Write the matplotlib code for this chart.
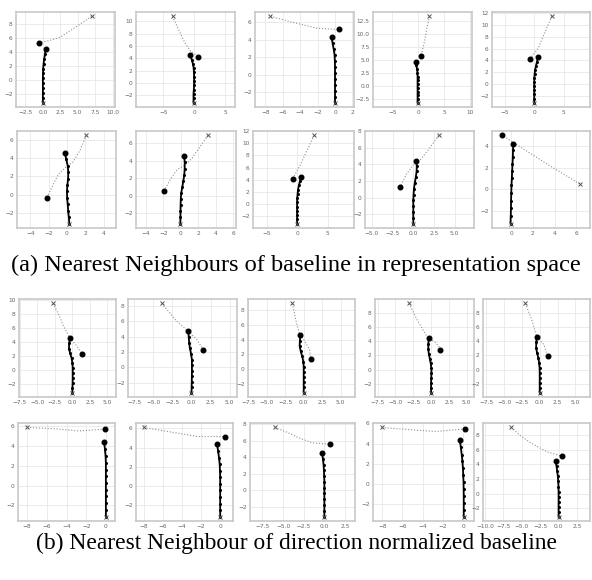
import matplotlib
matplotlib.use("Agg")
from matplotlib import pyplot as plt
from matplotlib.ticker import MultipleLocator

# (a) baseline in representation space, 10 panels (row 1 then row 2)
a_black_x = [
    [0, 0, 0, 0, 0, 0, 0.02, 0.05, 0.1, 0.2, 0.3, 0.4],
    [-0.1, -0.1, -0.1, -0.05, 0, 0, 0, -0.02, -0.08, -0.2, -0.4, -0.6],
    [0, 0, 0, 0, 0, 0, 0, -0.02, -0.05, -0.15, -0.28, -0.4],
    [-0.1, -0.1, -0.1, -0.1, -0.1, -0.1, -0.1, -0.1, -0.12, -0.2, -0.35, -0.5],
    [0, 0, 0, 0, 0, 0, 0.02, 0.06, 0.15, 0.3, 0.48, 0.63],
    [0.26, 0.2, 0.13, 0.08, 0.02, 0.0, 0.05, 0.12, 0.15, 0.08, -0.08, -0.22],
    [-0.05, -0.04, -0.03, -0.02, 0, 0.05, 0.18, 0.3, 0.4, 0.45, 0.45, 0.4],
    [0, 0, 0, 0, 0, 0, 0.02, 0.08, 0.15, 0.3, 0.48, 0.65],
    [0, 0, 0, 0, 0, 0.03, 0.08, 0.18, 0.3, 0.4, 0.42, 0.35],
    [-0.05, -0.03, -0.01, 0.0, 0.02, 0.04, 0.07, 0.1, 0.13, 0.16, 0.18, 0.2],
]
a_black_y = [
    [-3.3, -2.6, -1.9, -1.2, -0.5, 0.2, 0.9, 1.6, 2.3, 3.0, 3.7, 4.4],
    [-3.2, -2.5, -1.8, -1.1, -0.4, 0.3, 1.0, 1.7, 2.4, 3.1, 3.8, 4.5],
    [-3.2, -2.52, -1.84, -1.16, -0.48, 0.2, 0.88, 1.56, 2.24, 2.92, 3.6, 4.3],
    [-3.2, -2.48, -1.76, -1.04, -0.32, 0.4, 1.12, 1.84, 2.56, 3.28, 4.0, 4.7],
    [-3.2, -2.5, -1.8, -1.1, -0.4, 0.3, 1.0, 1.7, 2.4, 3.1, 3.8, 4.5],
    [-3.15, -2.45, -1.75, -1.05, -0.35, 0.35, 1.05, 1.75, 2.45, 3.15, 3.85, 4.55],
    [-3.2, -2.5, -1.8, -1.1, -0.4, 0.3, 1.0, 1.7, 2.4, 3.1, 3.8, 4.5],
    [-3.2, -2.5, -1.8, -1.1, -0.4, 0.3, 1.0, 1.7, 2.4, 3.1, 3.8, 4.5],
    [-3.15, -2.45, -1.75, -1.05, -0.35, 0.35, 1.05, 1.75, 2.45, 3.15, 3.85, 4.45],
    [-3.15, -2.45, -1.75, -1.05, -0.35, 0.35, 1.0, 1.65, 2.3, 2.95, 3.6, 4.15],
]
a_gray_x = [
    [7.0, 4.5, 2.5, 1.2, -0.5],
    [-3.5, -2.6, -1.5, -0.6, 0.7],
    [-7.4, -4.8, -2.1, -0.8, 0.4],
    [2.2, 1.7, 1.3, 0.9, 0.6],
    [3.0, 2.2, 1.4, 0.7, -0.7],
    [2.1, 1.45, 0.7, 0.0, -0.95, -1.5, -2.2],
    [3.1, 2.2, 1.3, 0.35, -0.4, -1.2, -1.9],
    [2.8, 1.7, 0.6, 0.0, -0.7],
    [3.05, 2.0, 0.9, -0.1, -0.85, -1.55],
    [6.3, 3.5, 1.3, -0.8],
]
a_gray_y = [
    [9.1, 7.4, 6.1, 5.7, 5.3],
    [10.8, 8.8, 6.5, 5.2, 4.2],
    [6.7, 6.0, 5.35, 5.25, 5.2],
    [13.5, 11.2, 8.9, 7.2, 5.8],
    [11.5, 9.7, 7.8, 6.1, 4.25],
    [6.45, 4.9, 3.6, 3.1, 2.2, 1.1, -0.36],
    [6.9, 5.6, 4.3, 3.4, 3.0, 1.85, 0.57],
    [11.3, 9.0, 6.6, 5.5, 4.2],
    [7.5, 6.0, 4.6, 3.8, 2.8, 1.3],
    [0.5, 2.2, 3.6, 4.95],
]

# (b) direction normalized baseline, 10 panels
b_black_x = [
    [0, 0.02, 0.04, 0.05, 0.05, 0.05, 0.02, -0.1, -0.3, -0.48, -0.45, -0.33],
    [0, 0.02, 0.04, 0.05, 0.06, 0.06, 0.05, -0.05, -0.2, -0.3, -0.36, -0.4],
    [0, 0, 0, 0, 0, 0, -0.05, -0.2, -0.4, -0.55, -0.52, -0.45],
    [0, 0, 0, 0.02, 0.05, 0.04, -0.05, -0.18, -0.32, -0.4, -0.38, -0.33],
    [0, 0, 0, 0, 0, -0.02, -0.08, -0.2, -0.38, -0.5, -0.48, -0.43],
    [0, 0, 0, 0, 0, 0, 0, 0, 0, -0.03, -0.1, -0.17],
    [0, 0, 0, 0, 0, 0, 0, -0.02, -0.05, -0.12, -0.22, -0.33],
    [0, 0, 0, 0, 0, 0, 0, -0.02, -0.05, -0.1, -0.18, -0.26],
    [0.05, 0.05, 0.05, 0.05, 0.04, 0.03, 0.0, -0.03, -0.08, -0.15, -0.24, -0.33],
    [0, 0, 0, 0, 0, 0, -0.02, -0.05, -0.1, -0.18, -0.28, -0.4],
]
b_black_y = [
    [-3.25, -2.55, -1.85, -1.15, -0.45, 0.25, 0.95, 1.65, 2.35, 3.05, 3.8, 4.5],
    [-3.3, -2.58, -1.86, -1.14, -0.42, 0.3, 1.02, 1.74, 2.46, 3.18, 3.95, 4.7],
    [-3.2, -2.5, -1.8, -1.1, -0.4, 0.3, 1.0, 1.7, 2.4, 3.1, 3.85, 4.55],
    [-3.2, -2.52, -1.84, -1.16, -0.48, 0.2, 0.88, 1.56, 2.24, 2.92, 3.65, 4.4],
    [-3.2, -2.5, -1.8, -1.1, -0.4, 0.3, 1.0, 1.7, 2.4, 3.1, 3.85, 4.6],
    [-3.15, -2.47, -1.79, -1.11, -0.43, 0.25, 0.93, 1.61, 2.29, 2.97, 3.7, 4.4],
    [-3.2, -2.52, -1.84, -1.16, -0.48, 0.2, 0.88, 1.56, 2.24, 2.92, 3.65, 4.4],
    [-3.2, -2.5, -1.8, -1.1, -0.4, 0.3, 1.0, 1.7, 2.4, 3.1, 3.8, 4.55],
    [-3.2, -2.52, -1.84, -1.16, -0.48, 0.2, 0.88, 1.56, 2.24, 2.92, 3.65, 4.35],
    [-3.1, -2.42, -1.74, -1.06, -0.38, 0.3, 0.98, 1.66, 2.34, 3.02, 3.7, 4.4],
]
b_gray_x = [
    [-2.75, -1.9, -1.26, -0.33, 0.66, 1.37],
    [-3.9, -2.9, -2.0, -0.45, 0.67, 1.55],
    [-1.55, -1.25, -1.0, -0.55, 0.15, 0.8, 0.95],
    [-3.1, -1.85, -0.6, 0.7, 1.25, 1.25],
    [-2.0, -1.05, -0.48, 0.6, 1.1],
    [-8.0, -5.0, -2.8, -1.2, -0.07],
    [-8.0, -5.0, -2.3, -0.8, 0.55],
    [-6.0, -4.5, -3.0, -1.5, 0.7],
    [-8.05, -5.5, -2.7, -1.0, 0.2],
    [-6.45, -5.2, -3.85, -1.6, 0.45],
]
b_gray_y = [
    [9.5, 7.8, 6.25, 4.5, 3.4, 2.3],
    [8.35, 7.2, 6.1, 4.7, 3.7, 2.3],
    [8.9, 7.6, 6.3, 4.7, 3.8, 2.6, 1.4],
    [9.3, 6.8, 4.7, 3.75, 3.05, 2.7],
    [9.3, 6.8, 4.8, 3.5, 1.9],
    [5.9, 5.75, 5.55, 5.65, 5.75],
    [6.1, 5.6, 5.15, 5.15, 5.15],
    [7.6, 7.0, 6.3, 5.75, 5.55],
    [5.6, 5.4, 5.2, 5.35, 5.45],
    [9.0, 7.9, 6.95, 5.7, 5.1],
]

a_caption = "(a) Nearest Neighbours of baseline in representation space"
b_caption = "(b) Nearest Neighbour of direction normalized baseline"

# tick spacing per panel
a_xstep = [2.5, 5, 2, 5, 5, 2, 2, 5, 2.5, 2]
a_ystep = [2, 2, 2, 2.5, 2, 2, 2, 2, 2, 2]
b_xstep = [2.5, 2.5, 2.5, 2.5, 2.5, 2, 2, 2.5, 2, 2.5]
b_ystep = [2, 2, 2, 2, 2, 2, 2, 2, 2, 2]

W, H = 592, 580

# panel boxes in pixels: (left, right) per panel, (top, bottom) per row
a_cols = [[(16, 115), (136, 235), (255, 354), (373, 472), (492, 590)],
          [(17, 116), (136, 236), (253, 354), (365, 474), (492, 590)]]
a_rows = [(12, 107), (131, 228)]
b_cols = [[(19, 116), (128, 237), (248, 355), (375, 474), (483, 590)],
          [(18, 115), (136, 233), (250, 355), (373, 474), (483, 590)]]
b_rows = [(299, 397), (423, 521)]


def draw_panel(fig, box, bx, by, gx, gy, xstep, ystep):
    (l, r), (t, b) = box
    ax = fig.add_axes([l / W, 1 - b / H, (r - l) / W, (b - t) / H])
    ax.plot(gx, gy, ':', color='#909090', lw=0.8)
    ax.plot(bx, by, '.-', color='black', lw=1.3, ms=2.4)
    ax.plot(bx[0], by[0], 'x', color='#555555', ms=3, mew=0.7)
    ax.plot(gx[0], gy[0], 'x', color='#555555', ms=3, mew=0.7)
    ax.plot(bx[-1], by[-1], 'o', color='black', ms=3.3)
    ax.plot(gx[-1], gy[-1], 'o', color='black', ms=3.3)
    ax.set_aspect('equal', adjustable='datalim')
    ax.xaxis.set_major_locator(MultipleLocator(xstep))
    ax.yaxis.set_major_locator(MultipleLocator(ystep))
    ax.grid(True, color='#e8e8e8', lw=0.6)
    ax.set_axisbelow(True)
    ax.tick_params(length=0, pad=2.5, labelsize=4.2, labelcolor='#666666')
    for s in ax.spines.values():
        s.set_color('#c8c8c8')
        s.set_linewidth(1.2)
    return ax


fig = plt.figure(figsize=(W / 100, H / 100), dpi=100)

for i in range(10):
    row, col = divmod(i, 5)
    draw_panel(fig, (a_cols[row][col], a_rows[row]),
               a_black_x[i], a_black_y[i], a_gray_x[i], a_gray_y[i],
               a_xstep[i], a_ystep[i])
    draw_panel(fig, (b_cols[row][col], b_rows[row]),
               b_black_x[i], b_black_y[i], b_gray_x[i], b_gray_y[i],
               b_xstep[i], b_ystep[i])

fig.text(0.5, 1 - 265 / H, a_caption, ha='center', va='center',
         family='Liberation Serif', fontsize=17.6)
fig.text(0.5, 1 - 543 / H, b_caption, ha='center', va='center',
         family='Liberation Serif', fontsize=16.9)

fig.savefig('out.png', dpi=100)
